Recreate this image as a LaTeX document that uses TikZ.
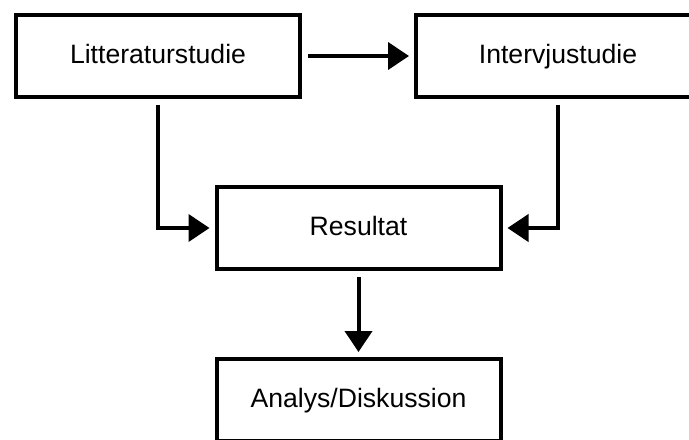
\documentclass[tikz,border=0pt]{standalone}
\usepackage{fontspec}
\setmainfont{Liberation Sans}
\usetikzlibrary{arrows.meta}

\begin{document}
\begin{tikzpicture}[x=0.5pt, y=-0.5pt,
  stepbox/.style={draw, line width=2pt, minimum width=142pt, minimum height=41pt,
    inner sep=0pt, text height=0.72em, text depth=0pt,
    font=\fontsize{13.3pt}{15pt}\selectfont},
  flow/.style={line width=2pt, -{Triangle[length=10.5pt, width=13.5pt]},
    shorten <=3pt, shorten >=2.5pt}]
  \useasboundingbox (0,0) rectangle (689,439);
  \clip (0,0) rectangle (689,439);

  % Two studies on top
  \node[stepbox] (litt) at (158,56) {Litteraturstudie};
  \node[stepbox] (intv) at (558,56) {Intervjustudie};

  % Result and analysis below
  \node[stepbox] (res) at (358.5,228) {Resultat};
  \node[stepbox] (ana) at (358.5,400) {Analys/Diskussion};

  % Connectors
  \draw[flow] (litt) -- (intv);
  \draw[flow] (litt.south) |- (res.west);
  \draw[flow] (intv.south) |- (res.east);
  \draw[flow] (res) -- (ana);
\end{tikzpicture}
\end{document}
